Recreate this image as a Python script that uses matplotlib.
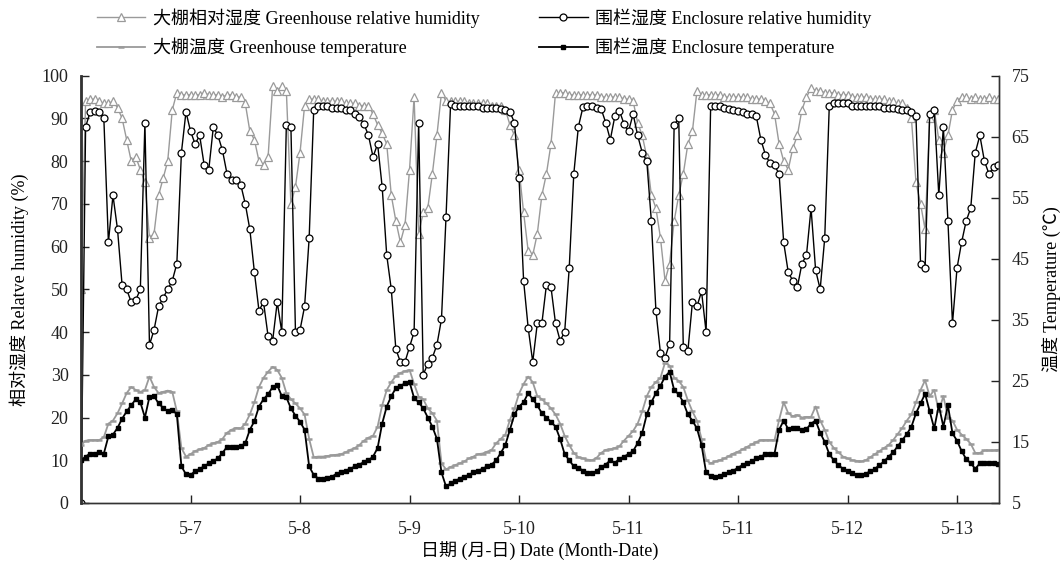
import numpy as np
import matplotlib
matplotlib.use('Agg')
import matplotlib.pyplot as plt

plt.rcParams['font.family'] = ['Liberation Serif', 'Noto Sans CJK SC']
plt.rcParams['axes.unicode_minus'] = False

# hourly readings, hour 0 = 5-6 00:00
gh_rh = [50, 94, 94.5, 94.5, 94, 93.5, 93.5, 94, 92.5, 90, 85, 80, 81, 78, 75, 62, 63, 72, 76, 80,
         92, 96, 95.5, 95.5, 95.5, 95.5, 95.5, 96, 95.5, 95.5, 95.5, 95, 95.5, 95.5, 95, 95,
         93.5, 87, 85, 80, 79, 81, 97.5, 96.5, 97.5, 96.5, 70, 74, 82, 93, 94.5,
         94.5, 94.5, 94, 94, 94, 94, 94, 93.5, 93.5, 93.5, 93, 93, 93,
         91, 88.5, 86.5, 84, 72, 66, 61, 65, 78, 95, 63, 68, 69, 77, 86, 96,
         94, 94, 94, 94, 94, 93.5, 93.5, 93.5, 93.5, 93.5, 93, 93, 93,
         92, 88.5, 86, 78, 68, 59, 58, 63,
         72, 77, 84, 96, 96, 96, 95.5, 95.5, 95.5, 95.5, 95.5, 95.5, 95.5, 95, 95, 95, 95, 95, 94.5, 94.5,
         94, 89, 86, 81, 72, 69, 62, 52, 56, 66, 72, 77, 84, 87, 96.5,
         95.5, 95.5, 95.5, 95.5, 95.5, 95, 95, 95, 95, 95, 95, 94.5, 94.5, 94.5,
         94, 93.5, 91, 84, 80, 78, 83, 86, 92, 95, 97,
         96.5, 96.5, 96, 96, 96, 95.5,
         95.5, 95.5, 95, 95, 95, 95, 94.5, 94.5, 94.5, 94.5, 94, 94, 93.5, 93.5,
         92.5, 90, 75, 70, 64, 90, 92, 85, 82, 86, 92, 94, 95,
         95, 94.5, 95, 94.5, 94.5, 95, 94.5, 94.5]

en_rh = [0, 88, 91.5, 91.8, 91.5, 90, 61, 72, 64, 51, 50, 47, 47.5, 50, 89, 37, 40.5, 46, 48, 50,
         52, 56, 82, 91.5, 87, 84, 86, 79, 78, 88, 86, 82.5, 77, 75.5, 75.5, 74.5,
         70, 64, 54, 45, 47, 39, 38, 47, 40, 88.5, 88, 40, 40.5, 46, 62,
         92, 93, 93, 93, 92.5, 92.5, 92.5, 92, 92,
         91, 90.3, 88.7, 86, 81, 84, 74, 58, 50, 36, 33, 33, 36.5, 40, 89, 30,
         32.6, 34, 37, 43, 67,
         93.4, 93, 93, 93, 93, 92.8, 92.8, 92.5, 92.5, 92.5, 92.5, 92.2, 92,
         91.5, 89, 76, 52, 41, 33, 42, 42,
         51, 50.5, 42, 38, 40, 55, 77, 88, 92.6, 93, 92.8, 92.5, 92.2,
         89, 85, 90.5, 91.8, 88.7, 87, 91, 86, 82, 80, 66, 45, 35, 34, 37.3, 88.5, 90,
         36.5, 35.5, 47, 46, 49.5, 40, 93,
         93, 92.8, 92.5, 92.2, 92, 91.8, 91.5, 91, 91, 90.5, 85, 81.5, 79.5,
         79, 77, 61, 54, 52, 50.5, 56, 58, 69, 54.5, 50, 62, 93,
         93.5, 93.5, 93.5, 93.5, 93, 93, 93, 93, 93, 92.8, 92.8, 92.5, 92.5, 92.5, 92.2, 92, 92,
         91.5, 90.5, 56, 55, 91, 92, 72, 88, 66, 42, 55, 61, 66, 69, 82, 86, 80, 77, 78.6, 79, 80]

gh_t = [14.5, 15.2, 15.3, 15.3, 15.3, 15.8, 18, 18.5, 19.7, 21.3, 23, 24, 23.5, 23.2, 23.5, 25.7,
        24, 23, 23.2, 23.4, 23.2, 20, 14, 12.6, 13, 13.5, 13.8, 14, 14.5, 14.8, 15, 15.5,
        16.5, 17, 17.3, 17.2, 18, 19.5, 21.5, 24, 25.5, 26.5, 27.3, 26.8, 25.5, 23, 22,
        21.3, 20.5, 19.5, 15.5,
        12.5, 12.6, 12.6, 12.7, 12.8, 12.9, 13, 13.3, 13.7, 14, 14.5, 15.2, 15.7, 16, 17.5,
        21, 23.5, 24.8, 25.8, 26.3, 26.6, 26.8, 24.5, 22.4, 22, 20.5, 19.7, 18.5, 11.5,
        10.5, 10.9, 11.2, 11.5, 11.8, 12.3, 12.6, 13, 13.1, 13.4, 13.7, 14.8, 15.5, 16.2,
        18.6, 20.5, 22.9, 24.5, 25.7, 24.8, 22.5,
        22, 21.3, 20.5, 19.5, 18, 16, 14.5, 13.2, 12.5, 12.3, 12.1, 12, 12.4, 13.2, 13.7,
        13.8, 14, 14.3, 15.2, 16, 16.8, 18, 20, 22.5, 24, 24.8, 25.5, 28, 27.5, 25.5, 25,
        24, 21.8, 20, 18.5, 15.5, 12, 11.5, 11.8, 12, 12.3, 12.7, 13.1, 13.4, 13.8, 14.2,
        14.6, 15, 15.3, 15.3,
        15.3, 15.3, 18.6, 21.5, 19.7, 19.2, 19.4, 19, 19.1, 19.1, 20.8, 18.5, 17, 15, 14,
        13.3, 12.6, 12.3, 12, 11.9, 11.8, 12, 12.5, 13, 13.5, 14, 14.5, 15.3, 16.3, 17.3,
        18.5, 19.5, 21.5, 23.5, 25.1, 22.5, 23.5, 20, 22.5, 19, 18.5, 17, 16.2, 15.5, 14.7,
        13.2, 13.2, 13.6, 13.6, 13.6, 13.7]

en_t = [12, 12.6, 13.1, 13.1, 13.3, 13.1, 15.9, 16.2, 17.3, 18.8, 20, 21, 22, 21.5, 19, 22.4,
        22.5, 21.3, 20.6, 20, 20.3, 19.5, 11, 9.7, 9.6, 10.2, 10.6, 11, 11.5, 11.9, 12.3,
        13.2, 14.2, 14.2, 14.2, 14.3, 14.8, 17, 18.4, 20.8, 22, 22.8, 24, 24.3, 22.5, 22.3,
        20.5, 19.3, 18.3, 17, 11,
        9.6, 9, 9, 9.1, 9.3, 9.8, 10, 10.3, 10.6, 11, 11.3, 11.7, 12, 12.6, 14, 18, 20.8,
        22.5, 23.8, 24.2, 24.6, 24.8, 22.2, 21.5, 20.5, 19, 17.5, 15.5, 10, 7.7, 8.2, 8.6,
        9, 9.3, 9.6, 10, 10.3, 10.6, 11, 11.3, 12, 13.2, 14.5, 17, 19.5, 20.8, 21.5, 23, 22, 21,
        19.7, 19, 18.3, 17.5, 15.5, 13, 12, 11, 10.8, 10.3, 9.9, 9.9, 10.2, 10.9, 11.3, 12,
        11.6, 12.2, 12.6, 13, 13.5, 14.8, 16.5, 19.5, 21.5, 23, 24.2, 25.7, 26.5, 23.5, 22.8,
        21.5, 19.5, 18.5, 17.2, 14.5, 10, 9.4, 9.3, 9.5, 9.7, 10, 10.3, 10.8, 11.2, 11.5,
        11.8, 12.3, 12.6, 13,
        13.1, 13.1, 17, 18.5, 17.1, 17.3, 17.2, 17, 17.1, 18, 18.5, 16.5, 15, 13, 12, 11.2,
        10.6, 10.2, 9.9, 9.6, 9.6, 9.8, 10.2, 10.6, 11.2, 11.8, 12.6, 13.3, 14.3, 15.3, 16.3,
        17.5, 19.7, 21.3, 22.9, 20, 17.2, 21, 17.5, 21, 16.4, 15.2, 13.5, 12.2, 11.5, 10.6,
        11.5, 11.6, 11.5, 11.5, 11.4]

tick_days = [1, 2, 3, 4, 5, 6, 7, 8]
tick_labels = ['5-7', '5-8', '5-9', '5-10', '5-11', '5-11', '5-12', '5-13']


def days(series):
    return np.arange(len(series)) / 24.0


fig = plt.figure(figsize=(10.62, 5.73), dpi=100)
ax = fig.add_axes([0.0763, 0.1222, 0.8644, 0.7458])
ax2 = ax.twinx()

grey = '#9a9a9a'
l1, = ax.plot(days(gh_rh), gh_rh, color=grey, lw=1.0, marker='^', ms=6,
              mfc='white', mec=grey, mew=0.9, label='大棚相对湿度 Greenhouse relative humidity')
l3, = ax.plot(days(en_rh), en_rh, color='black', lw=1.0, marker='o', ms=5,
              mfc='white', mec='black', mew=0.9, label='围栏湿度 Enclosure relative humidity')
l2, = ax2.plot(days(gh_t), gh_t, color=grey, lw=1.3, marker='_', ms=5, mew=1.8,
               label='大棚温度 Greenhouse temperature')
l4, = ax2.plot(days(en_t), en_t, color='black', lw=1.3, marker='s', ms=2.3,
               label='围栏温度 Enclosure temperature')

xmax = 201.2 / 24
ax.set_xlim(0, xmax)
ax.set_ylim(0, 100)
ax2.set_ylim(5, 75)
ax.set_yticks(range(0, 101, 10))
ax2.set_yticks(range(5, 76, 10))
ax.set_xticks(tick_days)
ax.set_xticklabels(tick_labels)

for a in (ax, ax2):
    a.spines['top'].set_visible(False)
    for s in a.spines.values():
        s.set_color('#333333')
        s.set_linewidth(1.0)
    a.tick_params(direction='in', length=6, width=1, labelsize=13, colors='#222222')
ax.spines['left'].set_linewidth(2.0)
ax.tick_params(axis='x', pad=13)
ax.tick_params(axis='y', pad=9)
ax2.tick_params(axis='y', pad=9)

ax.set_ylabel('相对湿度 Relatve humidity (%)', fontsize=13, labelpad=9)
ax2.set_ylabel('温度 Temperature (℃)', fontsize=13, labelpad=9)
ax.set_xlabel('日期 (月-日) Date (Month-Date)', fontsize=13, labelpad=2)

fig.legend(handles=[l1, l2, l3, l4], loc='upper left', bbox_to_anchor=(0.079, 1.008),
           ncol=2, frameon=False, fontsize=13, handlelength=2.7, columnspacing=3.3,
           labelspacing=0.55, handletextpad=0.4, borderaxespad=0.3)

fig.savefig('out.png', dpi=100)
